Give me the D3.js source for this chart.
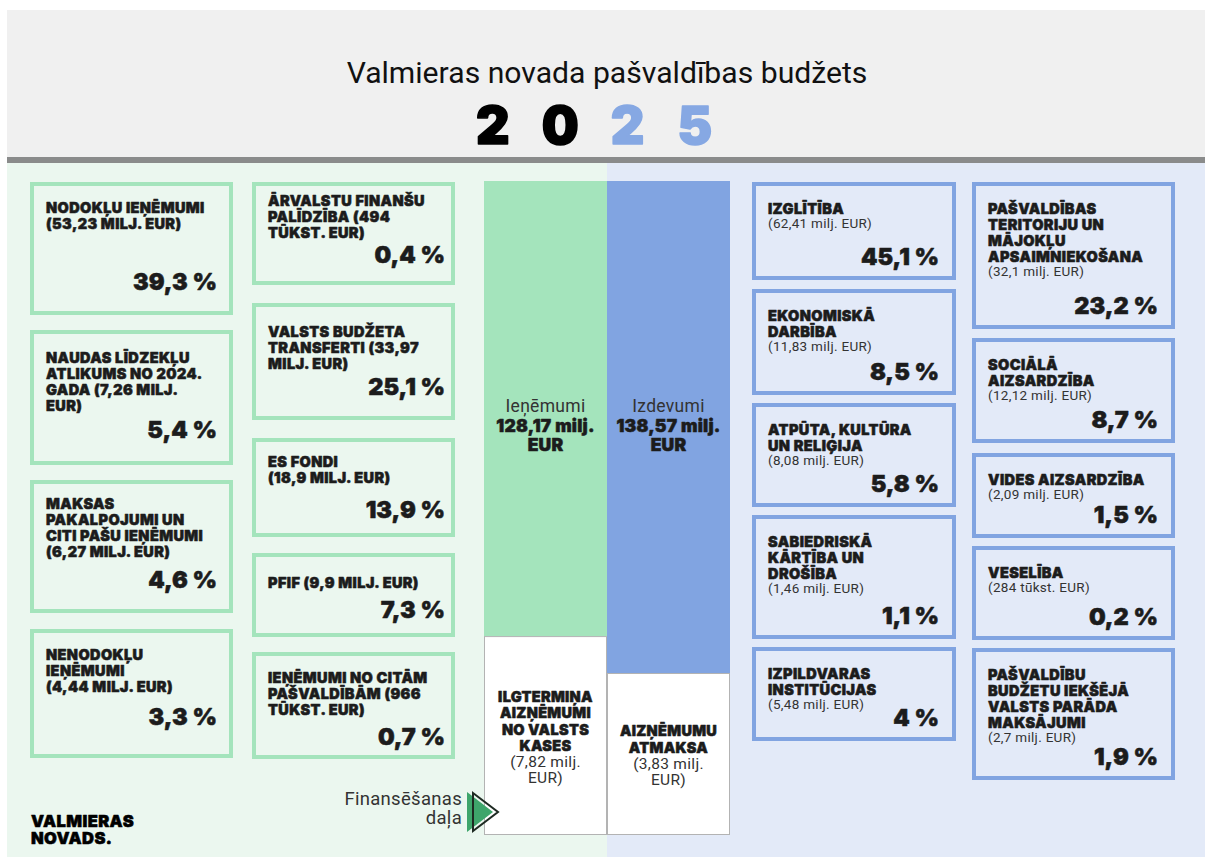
<!DOCTYPE html>
<html>
<head>
<meta charset="utf-8">
<script src="https://cdn.jsdelivr.net/npm/d3@7"></script>
<style>
  html, body { margin: 0; padding: 0; background: #fff; }
  svg { display: block; }
  .heavy { font-family: Inter, "DejaVu Sans", sans-serif; font-weight: 900; fill: #1c1c1c; stroke: #1c1c1c; stroke-width: 0.55px; stroke-linejoin: round; letter-spacing: 0.4px; }
  .plain { font-family: Roboto, "Liberation Sans", sans-serif; fill: #333; letter-spacing: 0.3px; }
</style>
</head>
<body>
<svg id="budget" width="1205" height="857"></svg>
<script>
const incomeLabels = [
  "NODOKĻU IEŅĒMUMI\n(53,23 MILJ. EUR)",
  "NAUDAS LĪDZEKĻU\nATLIKUMS NO 2024.\nGADA (7,26 MILJ.\nEUR)",
  "MAKSAS\nPAKALPOJUMI UN\nCITI PAŠU IEŅĒMUMI\n(6,27 MILJ. EUR)",
  "NENODOKĻU\nIEŅĒMUMI\n(4,44 MILJ. EUR)",
  "ĀRVALSTU FINANŠU\nPALĪDZĪBA (494\nTŪKST. EUR)",
  "VALSTS BUDŽETA\nTRANSFERTI (33,97\nMILJ. EUR)",
  "ES FONDI\n(18,9 MILJ. EUR)",
  "PFIF (9,9 MILJ. EUR)",
  "IEŅĒMUMI NO CITĀM\nPAŠVALDĪBĀM (966\nTŪKST. EUR)"
];
const incomeShares = [39.3, 5.4, 4.6, 3.3, 0.4, 25.1, 13.9, 7.3, 0.7];

const expenseLabels = [
  "IZGLĪTĪBA",
  "EKONOMISKĀ\nDARBĪBA",
  "ATPŪTA, KULTŪRA\nUN RELIĢIJA",
  "SABIEDRISKĀ\nKĀRTĪBA UN\nDROŠĪBA",
  "IZPILDVARAS\nINSTITŪCIJAS",
  "PAŠVALDĪBAS\nTERITORIJU UN\nMĀJOKĻU\nAPSAIMNIEKOŠANA",
  "SOCIĀLĀ\nAIZSARDZĪBA",
  "VIDES AIZSARDZĪBA",
  "VESELĪBA",
  "PAŠVALDĪBU\nBUDŽETU IEKŠĒJĀ\nVALSTS PARĀDA\nMAKSĀJUMI"
];
const expenseAmounts = [62.41, 11.83, 8.08, 1.46, 5.48, 32.1, 12.12, 2.09, 0.284, 2.7]; // milj. EUR
const expenseShares = [45.1, 8.5, 5.8, 1.1, 4, 23.2, 8.7, 1.5, 0.2, 1.9];

const totalNames = ["Ieņēmumi", "Izdevumi"];
const totalValues = [128.17, 138.57]; // milj. EUR
const financingLabels = ["ILGTERMIŅA\nAIZŅĒMUMI\nNO VALSTS\nKASES", "AIZŅĒMUMU\nATMAKSA"];
const financingValues = [7.82, 3.83];

const titleText = "Valmieras novada pašvaldības budžets";
const yearDigits = ["2", "0", "2", "5"];

// ---- layout of the cards (column, top, bottom, title baseline, share baseline) ----
const incomeCols = [[30, 233], [252, 455]];
const incomeLayout = [
  [0, 182, 315, 213, 290], [0, 330, 465, 363, 438], [0, 480, 613, 509, 588], [0, 629, 758, 660, 725],
  [1, 182, 285, 206, 263], [1, 303, 420, 337, 395], [1, 438, 537, 467, 518], [1, 553, 637, 588, 618], [1, 652, 759, 683, 745]
];
const expenseCols = [[752, 956], [972, 1175]];
const expenseLayout = [
  [0, 182, 280], [0, 289, 395], [0, 403, 507], [0, 515, 639], [0, 647, 741],
  [1, 182, 329], [1, 338, 443], [1, 453, 538], [1, 546, 640], [1, 648, 780]
];

const green = "#a4e4bc", blue = "#81a4e1";

// latvian number format: decimal comma
const lv = d3.formatLocale({ decimal: ",", thousands: "\u00a0", grouping: [3], currency: ["", ""] });
const fmtShare = v => lv.format(".1~f")(v) + " %";
const fmtMoney = lv.format(".2~f");
const fmtAmount = v => v < 1 ? "(" + Math.round(v * 1000) + " tūkst. EUR)" : "(" + fmtMoney(v) + " milj. EUR)";

const svg = d3.select("#budget");

// multi-line text helper
function lines(sel, text, x, lh) {
  text.split("\n").forEach((t, i) => {
    sel.append("tspan").attr("x", x).attr("dy", i ? lh : 0).text(t);
  });
}

// ---- header ----
svg.append("rect").attr("x", 7).attr("y", 10).attr("width", 1198).attr("height", 147).attr("fill", "#f0f0f0");
svg.append("rect").attr("x", 7).attr("y", 157).attr("width", 1198).attr("height", 6).attr("fill", "#8a8b8b");

const title = svg.append("text")
  .attr("class", "plain")
  .attr("x", 607).attr("y", 83)
  .attr("text-anchor", "middle")
  .style("font-size", "25px")
  .style("letter-spacing", "0px")
  .style("fill", "#111")
  .text(titleText);
// squeeze/stretch the title to the poster width
const tw = title.node().getComputedTextLength();
title.style("font-size", (25 * 521 / tw) + "px");

const digitX = d3.scalePoint().domain(d3.range(yearDigits.length)).range([493, 695]);
svg.append("g").selectAll("text")
  .data(yearDigits)
  .join("text")
  .attr("class", "heavy")
  .attr("x", (d, i) => digitX(i))
  .attr("y", 144)
  .attr("text-anchor", "middle")
  .style("font-size", "52px")
  .style("stroke-width", "1.6px")
  .style("fill", (d, i) => i < 2 ? "#000" : "#86a8e3")
  .style("stroke", (d, i) => i < 2 ? "#000" : "#86a8e3")
  .text(d => d);

// ---- background panels ----
svg.append("rect").attr("x", 7).attr("y", 163).attr("width", 600).attr("height", 694).attr("fill", "#ebf7ef");
svg.append("rect").attr("x", 607).attr("y", 163).attr("width", 598).attr("height", 694).attr("fill", "#e3eaf8");

// ---- income cards ----
const incomeData = incomeLabels.map((label, i) => ({ label, share: incomeShares[i], box: incomeLayout[i] }));
const inc = svg.append("g").selectAll("g")
  .data(incomeData)
  .join("g");

inc.append("rect")
  .attr("x", d => incomeCols[d.box[0]][0] + 2)
  .attr("y", d => d.box[1] + 2)
  .attr("width", d => incomeCols[d.box[0]][1] - incomeCols[d.box[0]][0] - 4)
  .attr("height", d => d.box[2] - d.box[1] - 4)
  .attr("fill", "none")
  .attr("stroke", green)
  .attr("stroke-width", 4);

inc.append("text")
  .attr("class", "heavy")
  .attr("y", d => d.box[3])
  .style("font-size", "14.5px")
  .each(function(d) { lines(d3.select(this), d.label, incomeCols[d.box[0]][0] + 16, 16); });

inc.append("text")
  .attr("class", "heavy")
  .attr("x", d => incomeCols[d.box[0]][1] - (d.box[0] ? 10 : 16))
  .attr("y", d => d.box[4])
  .attr("text-anchor", "end")
  .style("font-size", "23.5px")
  .style("letter-spacing", "0px")
  .text(d => fmtShare(d.share));

// ---- expense cards ----
const expenseData = expenseLabels.map((label, i) => ({ label, amount: expenseAmounts[i], share: expenseShares[i], box: expenseLayout[i] }));
const exp = svg.append("g").selectAll("g")
  .data(expenseData)
  .join("g");

exp.append("rect")
  .attr("x", d => expenseCols[d.box[0]][0] + 2)
  .attr("y", d => d.box[1] + 2)
  .attr("width", d => expenseCols[d.box[0]][1] - expenseCols[d.box[0]][0] - 4)
  .attr("height", d => d.box[2] - d.box[1] - 4)
  .attr("fill", "none")
  .attr("stroke", blue)
  .attr("stroke-width", 4);

// title lines and the amount share one text element
exp.append("text")
  .attr("y", d => d.box[1] + 32)
  .each(function(d) {
    const t = d3.select(this);
    const x0 = expenseCols[d.box[0]][0] + 16;
    d.label.split("\n").forEach((s, i) => {
      t.append("tspan").attr("class", "heavy").attr("x", x0).attr("dy", i ? 16 : 0)
        .style("font-size", "14.5px").text(s);
    });
    t.append("tspan").attr("class", "plain").attr("x", x0).attr("dy", 13.5)
      .style("font-size", "13.5px").text(fmtAmount(d.amount));
  });

exp.append("text")
  .attr("class", "heavy")
  .attr("x", d => expenseCols[d.box[0]][1] - 17)
  .attr("y", d => d.box[2] - 15)
  .attr("text-anchor", "end")
  .style("font-size", "23.5px")
  .style("letter-spacing", "0px")
  .text(d => fmtShare(d.share));

// ---- middle: totals and financing part ----
const x = d3.scaleBand().domain(totalNames).range([484, 730]);
const y = d3.scaleLinear().domain([0, d3.max(totalValues)]).range([181, 673]);
const bottom = 835;

const mid = svg.append("g").selectAll("g")
  .data(totalNames.map((name, i) => ({ name, value: totalValues[i], fin: financingLabels[i], finValue: financingValues[i] })))
  .join("g");

mid.append("rect")
  .attr("x", d => x(d.name))
  .attr("y", y(0))
  .attr("width", x.bandwidth())
  .attr("height", d => y(d.value) - y(0))
  .attr("fill", (d, i) => i ? blue : green);

mid.append("rect")
  .attr("x", d => x(d.name) + 0.5)
  .attr("y", d => y(d.value) + 0.5)
  .attr("width", x.bandwidth() - 1)
  .attr("height", d => bottom - y(d.value) - 1)
  .attr("fill", "#fff")
  .attr("stroke", "#b3b3b3");

mid.append("text")
  .attr("class", "plain")
  .attr("x", d => x(d.name) + x.bandwidth() / 2)
  .attr("y", 412)
  .attr("text-anchor", "middle")
  .style("font-size", "17.5px")
  .text(d => d.name);

mid.append("text")
  .attr("class", "heavy")
  .attr("y", 432)
  .attr("text-anchor", "middle")
  .style("font-size", "17.5px")
  .style("letter-spacing", "0.2px")
  .each(function(d) { lines(d3.select(this), fmtMoney(d.value) + " milj.\nEUR", x(d.name) + x.bandwidth() / 2, 19); });

// financing labels, centred in the white boxes
mid.each(function(d) {
  const g = d3.select(this);
  const cx = x(d.name) + x.bandwidth() / 2;
  const n = d.fin.split("\n").length;
  const blockH = 16 * (n - 1) + 32;
  const top = (y(d.value) + bottom) / 2 - blockH / 2 + 6;
  const t = g.append("text")
    .attr("y", top)
    .attr("text-anchor", "middle");
  d.fin.split("\n").forEach((s, i) => {
    t.append("tspan").attr("class", "heavy").attr("x", cx).attr("dy", i ? 16.5 : 0)
      .style("font-size", "14.5px").style("letter-spacing", "0.3px").text(s);
  });
  ["(" + fmtMoney(d.finValue) + " milj.", "EUR)"].forEach((s, i) => {
    t.append("tspan").attr("class", "plain").attr("x", cx).attr("dy", 16)
      .style("font-size", "15.5px").text(s);
  });
});

// "Finansēšanas daļa" pointer
svg.append("text")
  .attr("class", "plain")
  .attr("y", 805)
  .attr("text-anchor", "end")
  .style("font-size", "18.5px")
  .call(s => lines(s, "Finansēšanas\ndaļa", 462, 19));

svg.append("path")
  .attr("d", d3.line()([[467, 792], [493, 812], [467, 832]]) + "Z")
  .attr("fill", "#3ea56b");
svg.append("path")
  .attr("d", d3.line()([[473, 793], [498, 812], [473, 831]]) + "Z")
  .attr("fill", "none")
  .attr("stroke", "#1e2a22")
  .attr("stroke-width", 2);

// logo
svg.append("text")
  .attr("class", "heavy")
  .attr("y", 827)
  .style("font-size", "16.5px")
  .style("fill", "#000")
  .style("stroke", "#000")
  .call(s => lines(s, "VALMIERAS\nNOVADS.", 31, 17));
</script>
</body>
</html>
